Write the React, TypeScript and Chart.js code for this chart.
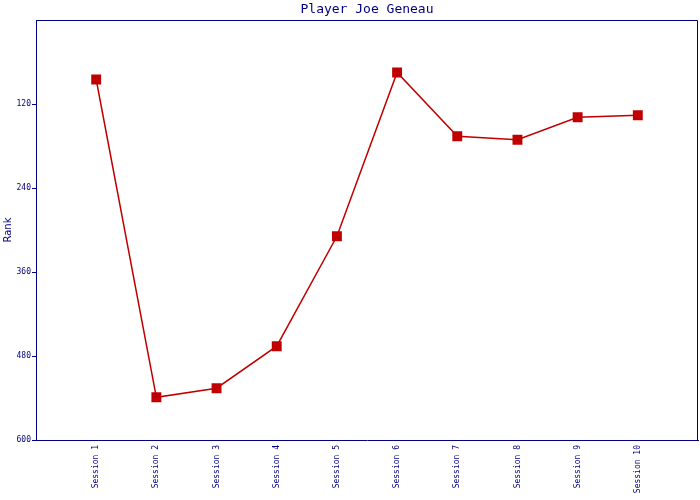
import React, { useEffect, useRef } from "react";
import { Chart, registerables } from "chart.js";

Chart.register(...registerables);

const sessions = ["Session 1", "Session 2", "Session 3", "Session 4", "Session 5", "Session 6", "Session 7", "Session 8", "Session 9", "Session 10"];
const ranks = [85, 539, 526, 466, 309, 75, 166, 171, 139, 136];
const yTicks = [120, 240, 360, 480, 600];

const NAVY = "#000080";
const RED = "#c00000";

const boxPlugin = {
  id: "boxBorder",
  afterDraw(chart: any) {
    const { ctx, chartArea } = chart;
    ctx.save();
    ctx.strokeStyle = NAVY;
    ctx.lineWidth = 1;
    const l = Math.round(chartArea.left);
    const t = Math.round(chartArea.top);
    const r = Math.round(chartArea.right);
    const b = Math.round(chartArea.bottom);
    ctx.beginPath();
    ctx.moveTo(l + 0.5, b + 0.5);
    ctx.lineTo(l + 0.5, t + 0.5);
    ctx.lineTo(r - 0.5, t + 0.5);
    ctx.lineTo(r - 0.5, b + 0.5);
    ctx.stroke();
    ctx.restore();
  },
};

export default function App() {
  const ref = useRef<HTMLCanvasElement>(null);
  useEffect(() => {
    document.body.style.margin = "0";
    const labels = ["", ...sessions, ""];
    const data = [null, ...ranks, null];
    const chart = new Chart(ref.current as HTMLCanvasElement, {
      type: "line",
      data: {
        labels,
        datasets: [
          {
            data,
            borderColor: RED,
            backgroundColor: RED,
            borderWidth: 1.5,
            tension: 0,
            pointStyle: "rect",
            pointRadius: (c: any) => (c.raw == null ? 0 : 7),
            pointHoverRadius: (c: any) => (c.raw == null ? 0 : 7),
            pointBackgroundColor: RED,
            pointBorderColor: RED,
            pointBorderWidth: 0,
          },
        ],
      },
      options: {
        animation: false,
        responsive: false,
        devicePixelRatio: 1,
        layout: { padding: { left: 0, right: 2, top: 0, bottom: 0 } },
        plugins: {
          legend: { display: false },
          tooltip: { enabled: false },
          title: {
            display: true,
            text: "Player Joe Geneau",
            color: NAVY,
            fullSize: false,
            font: { family: "DejaVu Sans Mono", size: 13, weight: "normal" },
            padding: { top: 2, bottom: 2.4 },
          },
        },
        scales: {
          x: {
            type: "category",
            offset: false,
            grid: { display: false, drawTicks: false },
            border: { display: true, color: NAVY, width: 1 },
            ticks: {
              autoSkip: false,
              maxRotation: 90,
              minRotation: 90,
              padding: 5,
              color: NAVY,
              font: { family: "DejaVu Sans Mono", size: 8 },
            },
            afterFit: (s: any) => {
              s.height = 60;
              s.paddingLeft = 0;
              s.paddingRight = 0;
            },
          },
          y: {
            reverse: true,
            min: 0,
            max: 600,
            afterBuildTicks: (s: any) => {
              s.ticks = yTicks.map((v) => ({ value: v }));
            },
            grid: {
              display: true,
              drawOnChartArea: false,
              drawTicks: true,
              tickLength: 4,
              lineWidth: 1,
              color: NAVY,
              tickColor: NAVY,
              tickWidth: 1,
            },
            border: { display: true, color: NAVY, width: 1 },
            ticks: {
              padding: 1,
              color: NAVY,
              font: { family: "DejaVu Sans Mono", size: 8 },
            },
            title: {
              display: true,
              text: "Rank",
              color: NAVY,
              font: { family: "DejaVu Sans", size: 10 },
              padding: { top: 2, bottom: 0 },
            },
            afterFit: (s: any) => {
              s.width = 36;
              s.paddingTop = 0;
              s.paddingBottom = 0;
            },
          },
        },
      },
      plugins: [boxPlugin],
    });
    return () => chart.destroy();
  }, []);
  return (
    <div style={{ width: 700, height: 500 }}>
      <canvas ref={ref} width={700} height={500} />
    </div>
  );
}
